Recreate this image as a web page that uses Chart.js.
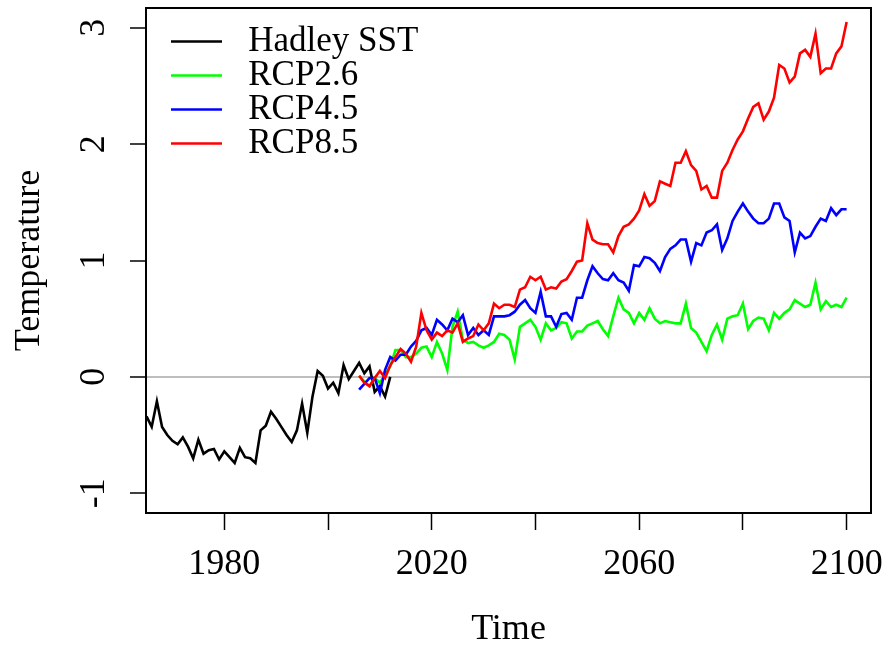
<!DOCTYPE html>
<html>
<head>
<meta charset="utf-8">
<script src="https://cdn.jsdelivr.net/npm/chart.js@4"></script>
<style>
  html, body { margin: 0; padding: 0; background: #fff; }
  #wrap { width: 888px; height: 646px; }
</style>
</head>
<body>
<div id="wrap"><canvas id="chart"></canvas></div>
<script>
// observed series, one value per year
const hadleyStart = 1965;
const hadley = [
  -0.34, -0.43, -0.21, -0.43, -0.50, -0.55, -0.58, -0.52, -0.60, -0.70,
  -0.54, -0.66, -0.63, -0.62, -0.71, -0.64, -0.69, -0.74, -0.61, -0.69,
  -0.70, -0.74, -0.46, -0.42, -0.30, -0.36, -0.43, -0.50, -0.56, -0.46,
  -0.23, -0.48, -0.17, 0.05, 0.01, -0.10, -0.05, -0.14, 0.10, -0.02,
  0.05, 0.12, 0.03, 0.09, -0.13, -0.08, -0.17, 0.00
];

// projections 2006 - 2100
const rcpStart = 2006;
const rcp26 = [
  0.01, -0.04, -0.08, -0.01, -0.05, 0.02, 0.09, 0.23, 0.23, 0.17,
  0.17, 0.20, 0.25, 0.26, 0.17, 0.30, 0.20, 0.06, 0.43, 0.56,
  0.32, 0.29, 0.30, 0.27, 0.25, 0.27, 0.30, 0.37, 0.36, 0.32,
  0.15, 0.43, 0.46, 0.49, 0.43, 0.32, 0.46, 0.40, 0.42, 0.47,
  0.46, 0.33, 0.39, 0.39, 0.44, 0.46, 0.48, 0.41, 0.35, 0.52,
  0.68, 0.58, 0.55, 0.46, 0.55, 0.49, 0.59, 0.50, 0.46, 0.48,
  0.47, 0.46, 0.46, 0.63, 0.42, 0.38, 0.30, 0.22, 0.36, 0.45,
  0.32, 0.50, 0.52, 0.53, 0.63, 0.41, 0.48, 0.51, 0.50, 0.40,
  0.55, 0.50, 0.55, 0.58, 0.66, 0.63, 0.60, 0.62, 0.81, 0.58,
  0.65, 0.60, 0.62, 0.60, 0.68
];
const rcp45 = [
  -0.11, -0.06, -0.01, -0.01, -0.14, 0.06, 0.17, 0.14, 0.19, 0.19,
  0.26, 0.31, 0.40, 0.42, 0.36, 0.49, 0.45, 0.40, 0.50, 0.47,
  0.53, 0.36, 0.42, 0.36, 0.40, 0.36, 0.52, 0.52, 0.52, 0.53,
  0.56, 0.62, 0.66, 0.59, 0.55, 0.73, 0.52, 0.52, 0.43, 0.54,
  0.55, 0.49, 0.68, 0.68, 0.83, 0.95, 0.89, 0.84, 0.83, 0.89,
  0.83, 0.81, 0.74, 0.96, 0.95, 1.03, 1.02, 0.98, 0.91, 1.03,
  1.10, 1.13, 1.18, 1.18, 0.99, 1.15, 1.13, 1.24, 1.26, 1.31,
  1.09, 1.19, 1.34, 1.42, 1.49, 1.42, 1.36, 1.32, 1.32, 1.36,
  1.49, 1.49, 1.37, 1.34, 1.07, 1.24, 1.19, 1.21, 1.29, 1.36,
  1.34, 1.45, 1.39, 1.44, 1.44
];
const rcp85 = [
  0.01, -0.05, -0.08, -0.01, 0.05, -0.01, 0.10, 0.17, 0.24, 0.20,
  0.13, 0.26, 0.55, 0.40, 0.32, 0.38, 0.35, 0.40, 0.38, 0.46,
  0.30, 0.33, 0.35, 0.45, 0.40, 0.46, 0.63, 0.59, 0.62, 0.62,
  0.60, 0.75, 0.77, 0.86, 0.83, 0.86, 0.75, 0.77, 0.76, 0.82,
  0.84, 0.91, 0.99, 1.00, 1.32, 1.18, 1.15, 1.14, 1.14, 1.07,
  1.21, 1.29, 1.31, 1.36, 1.43, 1.57, 1.47, 1.51, 1.68, 1.66,
  1.64, 1.84, 1.84, 1.94, 1.82, 1.77, 1.61, 1.64, 1.54, 1.54,
  1.77, 1.84, 1.95, 2.04, 2.11, 2.22, 2.32, 2.35, 2.21, 2.28,
  2.40, 2.68, 2.65, 2.53, 2.58, 2.78, 2.81, 2.75, 2.95, 2.61,
  2.65, 2.65, 2.78, 2.84, 3.05
];

const seriesNames = ['Hadley SST', 'RCP2.6', 'RCP4.5', 'RCP8.5'];
const seriesColors = ['#000000', '#00ff00', '#0000ff', '#ff0000'];

const xTicks = [1980, 2000, 2020, 2040, 2060, 2080, 2100];
const xTickLabels = ['1980', '', '2020', '', '2060', '', '2100'];
const yTicks = [-1, 0, 1, 2, 3];

function toPoints(start, values) {
  return values.map((v, i) => ({ x: start + i, y: v }));
}

const serif = '"Liberation Serif", "Times New Roman", serif';

// box around the plot region, like R's box()
const plotBox = {
  id: 'plotBox',
  afterDatasetsDraw(chart) {
    const { ctx, chartArea: a } = chart;
    ctx.save();
    ctx.strokeStyle = '#000';
    ctx.lineWidth = 2;
    ctx.strokeRect(a.left, a.top, a.right - a.left, a.bottom - a.top);
    ctx.restore();
  }
};

// put the legend in the top left corner of the plot
const legendShift = {
  id: 'legendShift',
  afterLayout(chart) {
    const lg = chart.legend;
    if (lg) {
      lg.left = chart.chartArea.left + 25;
      lg.top = chart.chartArea.top + 17;
    }
  }
};

const datasets = [
  [hadleyStart, hadley],
  [rcpStart, rcp26],
  [rcpStart, rcp45],
  [rcpStart, rcp85]
].map(([start, values], i) => ({
  label: seriesNames[i],
  data: toPoints(start, values),
  borderColor: seriesColors[i],
  backgroundColor: seriesColors[i],
  borderWidth: 2.6,
  pointRadius: 0,
  fill: false,
  tension: 0,
  order: 4 - i
}));

new Chart(document.getElementById('chart'), {
  type: 'line',
  data: { datasets },
  plugins: [plotBox, legendShift],
  options: {
    responsive: true,
    maintainAspectRatio: false,
    animation: false,
    devicePixelRatio: 1,
    layout: { padding: { top: 8, right: 17, left: 0, bottom: 0 } },
    plugins: {
      tooltip: { enabled: false },
      legend: {
        position: 'chartArea',
        align: 'start',
        labels: {
          font: { family: serif, size: 35 },
          color: '#000',
          usePointStyle: true,
          pointStyle: 'line',
          pointStyleWidth: 52,
          padding: -1,
          sort: (a, b) => a.datasetIndex - b.datasetIndex,
          generateLabels: (chart) =>
            Chart.defaults.plugins.legend.labels.generateLabels(chart)
              .map(l => ({ ...l, text: ' ' + l.text }))
        }
      }
    },
    scales: {
      x: {
        type: 'linear',
        min: 1964.9,
        max: 2104.7,
        afterBuildTicks: s => { s.ticks = xTicks.map(v => ({ value: v })); },
        afterFit: s => { s.height = 133; s.paddingLeft = 0; s.paddingRight = 0; },
        ticks: {
          font: { family: serif, size: 36 },
          color: '#000',
          padding: 13,
          maxRotation: 0,
          autoSkip: false,
          callback: v => xTickLabels[xTicks.indexOf(v)]
        },
        grid: { color: 'rgba(0,0,0,0)', tickColor: '#000', tickLength: 17, tickWidth: 1.5 },
        border: { display: false },
        title: {
          display: true,
          text: 'Time',
          color: '#000',
          font: { family: serif, size: 36, lineHeight: 0.9 },
          padding: 0
        }
      },
      y: {
        min: -1.17,
        max: 3.17,
        afterBuildTicks: s => { s.ticks = yTicks.map(v => ({ value: v })); },
        afterFit: s => { s.width = 146; s.paddingTop = 0; s.paddingBottom = 0; },
        ticks: {
          font: { family: serif, size: 36 },
          color: '#000',
          padding: 20,
          minRotation: 90,
          maxRotation: 90,
          crossAlign: 'center',
          callback: v => String(v)
        },
        grid: {
          color: c => (c.tick && c.tick.value === 0 ? '#bebebe' : 'rgba(0,0,0,0)'),
          lineWidth: 2,
          tickColor: '#000',
          tickLength: 16,
          tickWidth: 1.5
        },
        border: { display: false },
        title: {
          display: true,
          text: 'Temperature',
          color: '#000',
          font: { family: serif, size: 36 },
          padding: { top: 8, bottom: 0 }
        }
      }
    }
  }
});
</script>
</body>
</html>
